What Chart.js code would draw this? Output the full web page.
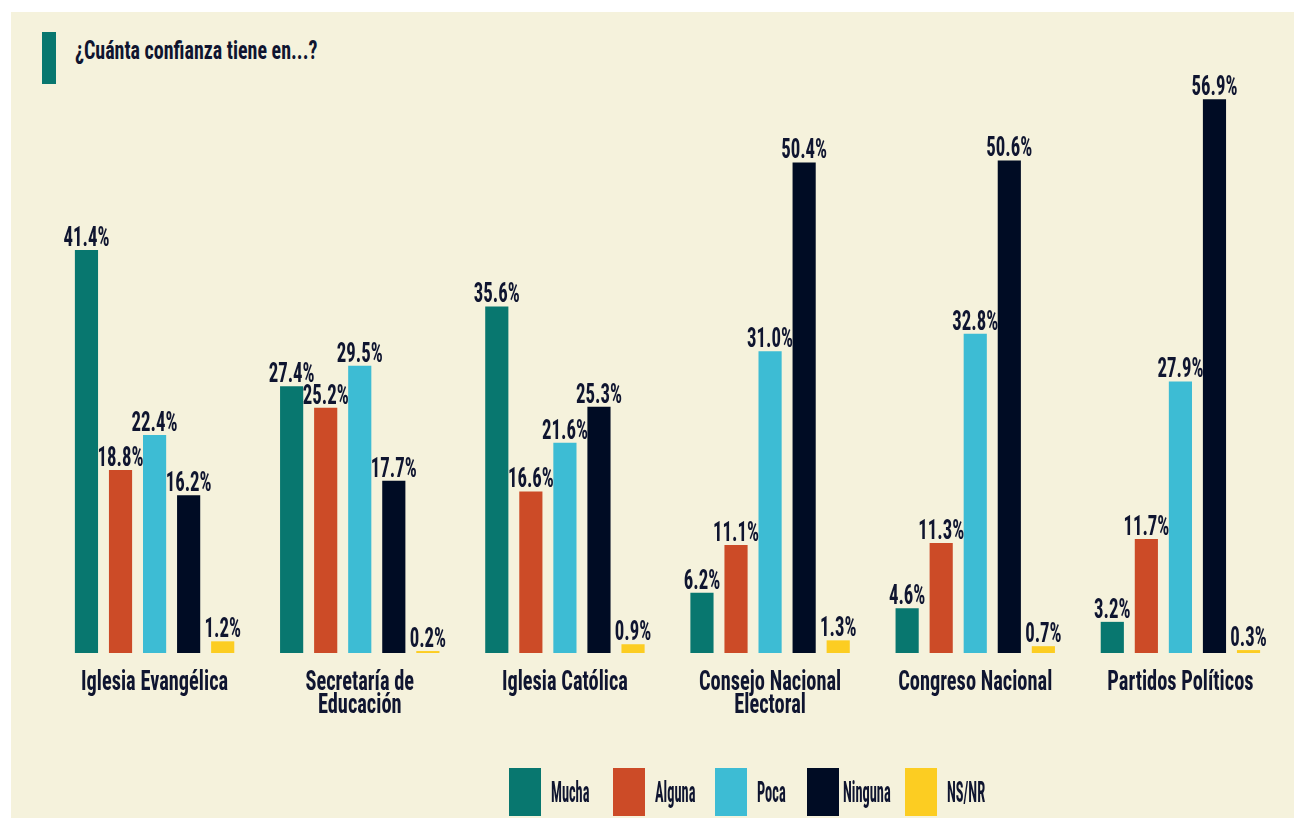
<!DOCTYPE html>
<html>
<head>
<meta charset="utf-8">
<script src="https://cdn.jsdelivr.net/npm/chart.js@4.4.1/dist/chart.umd.min.js"></script>
<style>
  html, body { margin: 0; padding: 0; background: #ffffff; }
  body { width: 1294px; height: 818px; position: relative; overflow: hidden;
         font-family: 'Roboto Condensed', 'DejaVu Sans Condensed', sans-serif; }
  #panel { position: absolute; left: 11px; top: 12px; right: 0; bottom: 0; background: #f5f2dc; }
  #accent { position: absolute; left: 42px; top: 32px; width: 14px; height: 52px; background: #08776f; }
  #title { position: absolute; left: 75px; top: 34px; font-size: 20px; font-weight: bold; color: #0f1530;
           transform: scale(1, 1.3); transform-origin: left top; }
  #chart { position: absolute; left: 0; top: 0; }
  #legend { position: absolute; left: 509px; top: 768px; display: flex; }
  .item { display: flex; align-items: center; height: 48px; }
  .item:nth-child(1) { width: 104px; }
  .item:nth-child(2) { width: 102px; }
  .item:nth-child(3) { width: 92px; }
  .item:nth-child(4) { width: 98px; }
  .swatch { width: 32px; height: 48px; margin-right: 10px; flex: none; }
  .item:nth-child(4) .swatch { margin-right: 4px; }
  .item span { font-size: 20px; font-weight: bold; color: #0f1530; display: inline-block;
               transform: scale(0.72, 1.45); transform-origin: left center; white-space: nowrap; }
</style>
</head>
<body>
<div id="panel"></div>
<div id="accent"></div>
<div id="title">¿Cuánta confianza tiene en...?</div>
<canvas id="chart" width="1294" height="818"></canvas>
<div id="legend"></div>
<script>
// categories and series
const categories = [
    'Iglesia Evangélica',
    ['Secretaría de', 'Educación'],
    'Iglesia Católica',
    ['Consejo Nacional', 'Electoral'],
    'Congreso Nacional',
    'Partidos Políticos'
];
const seriesNames = ['Mucha', 'Alguna', 'Poca', 'Ninguna', 'NS/NR'];
const mucha   = [41.4, 27.4, 35.6, 6.2, 4.6, 3.2];
const alguna  = [18.8, 25.2, 16.6, 11.1, 11.3, 11.7];
const poca    = [22.4, 29.5, 21.6, 31.0, 32.8, 27.9];
const ninguna = [16.2, 17.7, 25.3, 50.4, 50.6, 56.9];
const nsnr    = [1.2, 0.2, 0.9, 1.3, 0.7, 0.3];
const seriesColors = ['#08776f', '#cc4b27', '#3dbcd4', '#000c24', '#fccd22'];

const textColor = '#0f1530';
const fontFamily = "'Roboto Condensed', 'DejaVu Sans Condensed', sans-serif";

Chart.defaults.font.family = fontFamily;
Chart.defaults.color = textColor;

// tall condensed look: draw text with a vertical stretch
function drawTall(ctx, text, x, y, sx, sy) {
    ctx.save();
    ctx.translate(x, y);
    ctx.scale(sx, sy);
    ctx.fillText(text, 0, 0);
    ctx.restore();
}

// value labels above bars + category labels below axis
const textLayer = {
    id: 'textLayer',
    afterDatasetsDraw(chart) {
        const ctx = chart.ctx;
        ctx.save();
        ctx.font = 'bold 20px ' + fontFamily;
        ctx.fillStyle = textColor;
        ctx.textAlign = 'center';
        ctx.textBaseline = 'alphabetic';
        chart.data.datasets.forEach((ds, i) => {
            chart.getDatasetMeta(i).data.forEach((bar, j) => {
                drawTall(ctx, ds.data[j].toFixed(1) + '%', bar.x, bar.y - 4, 0.94, 1.4);
            });
        });

        const xScale = chart.scales.x;
        const base = chart.chartArea.bottom;
        chart.data.labels.forEach((label, i) => {
            const lines = Array.isArray(label) ? label : [label];
            const x = xScale.getPixelForTick(i);
            lines.forEach((line, k) => {
                drawTall(ctx, line, x, base + 37 + k * 23, 1.02, 1.34);
            });
        });
        ctx.restore();
    }
};

const allSeries = [mucha, alguna, poca, ninguna, nsnr];

new Chart(document.getElementById('chart'), {
    type: 'bar',
    data: {
        labels: categories,
        datasets: allSeries.map((values, i) => ({
            label: seriesNames[i],
            data: values,
            backgroundColor: seriesColors[i],
            borderWidth: 0,
            categoryPercentage: 0.83,
            barPercentage: 0.68
        }))
    },
    options: {
        responsive: false,
        animation: false,
        devicePixelRatio: 1,
        layout: { padding: { left: 52, right: 11, top: 69, bottom: 0 } },
        scales: {
            x: {
                grid: { display: false },
                border: { display: false },
                ticks: { display: false },
                afterFit(scale) { scale.height = 165; }
            },
            y: {
                display: false,
                min: 0,
                max: 60
            }
        },
        plugins: {
            legend: { display: false },
            tooltip: { enabled: false }
        }
    },
    plugins: [textLayer]
});

// html legend
const legend = document.getElementById('legend');
seriesNames.forEach((name, i) => {
    const item = document.createElement('div');
    item.className = 'item';
    item.innerHTML = '<div class="swatch" style="background:' + seriesColors[i] + '"></div><span>' + name + '</span>';
    legend.appendChild(item);
});
</script>
</body>
</html>
